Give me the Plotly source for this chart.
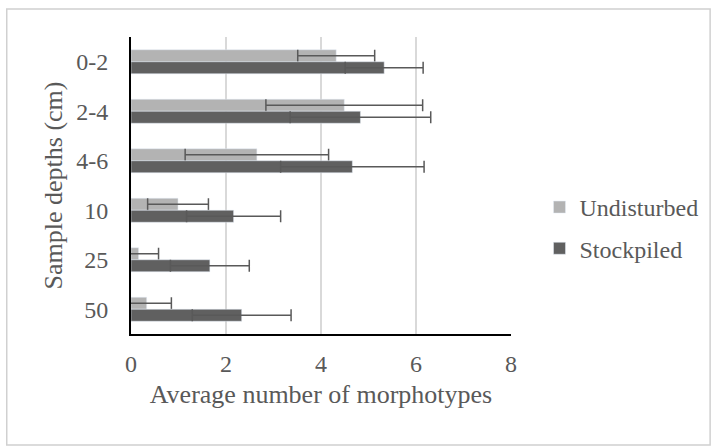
import plotly.graph_objects as go

depths = ["0-2", "2-4", "4-6", "10", "25", "50"]
undisturbed = [4.32, 4.49, 2.65, 0.99, 0.16, 0.33]
undisturbed_err = [0.81, 1.65, 1.51, 0.64, 0.42, 0.52]
stockpiled = [5.33, 4.83, 4.66, 2.16, 1.66, 2.33]
stockpiled_err = [0.82, 1.48, 1.51, 0.99, 0.83, 1.04]

serif = "Liberation Serif"
grey = "#595959"
err_style = dict(type="data", color=grey, thickness=1.5, width=6)

fig = go.Figure()
fig.add_trace(go.Bar(y=depths, x=undisturbed, orientation="h", name="Undisturbed",
                     legendgroup="u", marker_color="#b3b3b3",
                     error_x=dict(array=undisturbed_err, **err_style)))
fig.add_trace(go.Bar(y=depths, x=stockpiled, orientation="h", name="Stockpiled",
                     legendgroup="s", marker_color="#606060",
                     error_x=dict(array=stockpiled_err, **err_style)))

fig.update_layout(
    width=715, height=446,
    margin=dict(l=131, r=202, t=37, b=112),
    barmode="group", bargap=0.515, bargroupgap=0,
    plot_bgcolor="white", paper_bgcolor="white",
    font=dict(family=serif, color=grey, size=20),
    legend=dict(x=1.075, y=0.357, yanchor="middle", traceorder="grouped",
                font=dict(family=serif, size=24, color=grey),
                tracegroupgap=7, itemwidth=30),
    xaxis=dict(range=[0, 8], dtick=2, showgrid=True, gridcolor="#d9d9d9", gridwidth=1.5,
               showline=True, linecolor="black", linewidth=2, zeroline=False,
               ticks="", automargin=False, ticklabelstandoff=7,
               tickfont=dict(family=serif, size=24, color=grey),
               title=dict(text="Average number of morphotypes",
                          font=dict(family=serif, size=26, color=grey), standoff=9)),
    yaxis=dict(autorange="reversed", showline=True, linecolor="black", linewidth=2,
               ticks="", automargin=False, ticklabelstandoff=16,
               tickfont=dict(family=serif, size=24, color=grey),
               title=dict(text="Sample depths (cm)",
                          font=dict(family=serif, size=26, color=grey), standoff=6)),
    shapes=[dict(type="rect", xref="paper", yref="paper",
                 x0=-0.327, x1=1.524, y0=-0.374, y1=1.094,
                 line=dict(color="#d0d0d0", width=1.5), layer="below")],
)

fig.write_html("out.html", config={"displayModeBar": False},
               post_script="document.body.style.margin='0';")
